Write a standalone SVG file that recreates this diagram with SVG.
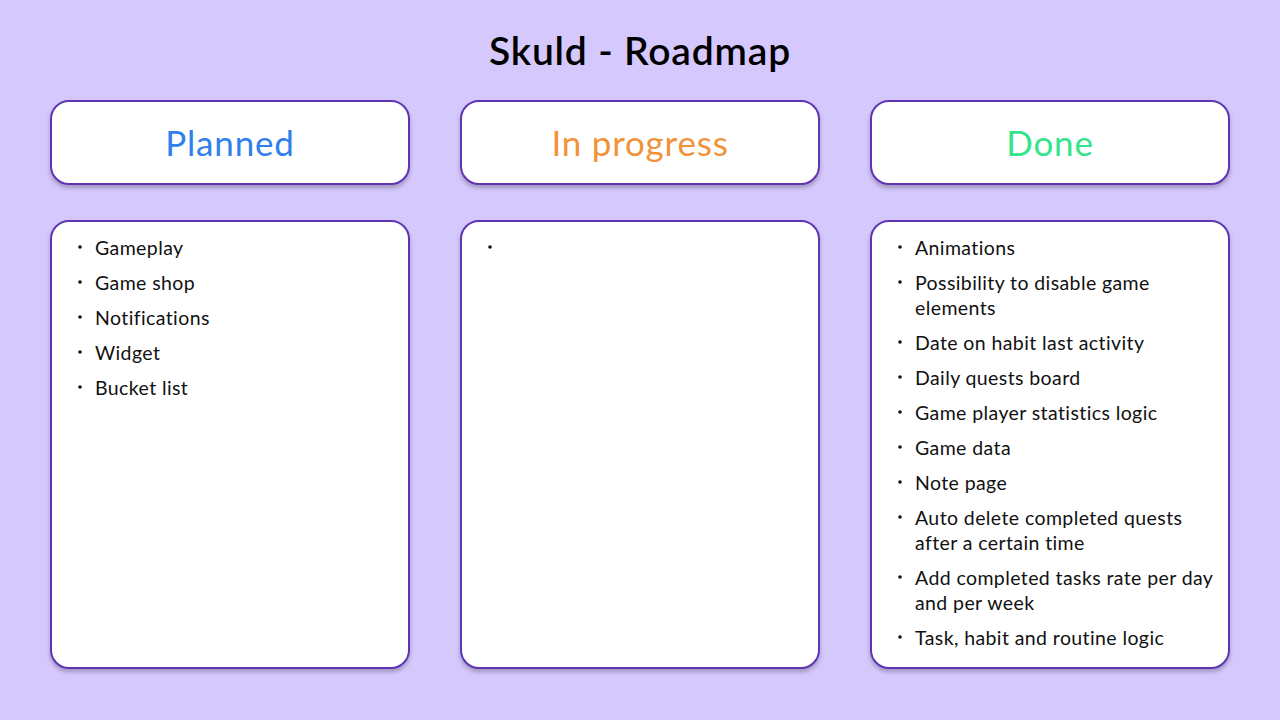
<svg xmlns="http://www.w3.org/2000/svg" width="1280" height="720" viewBox="0 0 1280 720">
<style>
.box{fill:#ffffff;stroke:#5e35b1;stroke-width:2;filter:url(#sh)}
.title{font-family:Lato,"Liberation Sans",sans-serif;font-size:39px;font-weight:600;letter-spacing:0.8px;fill:#000000}
.hdr{font-family:Lato,"Liberation Sans",sans-serif;font-size:35px;font-weight:400;letter-spacing:0.8px}
.item{font-family:Lato,"Liberation Sans",sans-serif;font-size:19.5px;letter-spacing:0.4px;fill:#111111}
.bul{fill:#111111}
</style>
<defs>
<filter id="sh" x="-10%" y="-10%" width="120%" height="130%">
<feDropShadow dx="0" dy="3" stdDeviation="2" flood-color="#000000" flood-opacity="0.25"/>
</filter>
</defs>
<rect width="1280" height="720" fill="#d5c8fd"/>
<text class="title" x="640" y="65" text-anchor="middle">Skuld - Roadmap</text>
<g id="planned-header">
<rect class="box" x="51" y="101" width="358" height="83" rx="18"/>
<text class="hdr" x="230" y="156" text-anchor="middle" fill="#2f80ed">Planned</text>
</g>
<g id="inprogress-header">
<rect class="box" x="461" y="101" width="358" height="83" rx="18"/>
<text class="hdr" x="640" y="156" text-anchor="middle" fill="#f2923a">In progress</text>
</g>
<g id="done-header">
<rect class="box" x="871" y="101" width="358" height="83" rx="18"/>
<text class="hdr" x="1050" y="156" text-anchor="middle" fill="#33e58a">Done</text>
</g>
<g id="planned-list">
<rect class="box" x="51" y="221" width="358" height="447" rx="18"/>
<circle class="bul" cx="80" cy="247" r="1.8"/><text class="item" x="95" y="255">Gameplay</text>
<circle class="bul" cx="80" cy="282" r="1.8"/><text class="item" x="95" y="290">Game shop</text>
<circle class="bul" cx="80" cy="317" r="1.8"/><text class="item" x="95" y="325">Notifications</text>
<circle class="bul" cx="80" cy="352" r="1.8"/><text class="item" x="95" y="360">Widget</text>
<circle class="bul" cx="80" cy="387" r="1.8"/><text class="item" x="95" y="395">Bucket list</text>
</g>
<g id="inprogress-list">
<rect class="box" x="461" y="221" width="358" height="447" rx="18"/>
<circle class="bul" cx="490" cy="247" r="1.8"/>
</g>
<g id="done-list">
<rect class="box" x="871" y="221" width="358" height="447" rx="18"/>
<circle class="bul" cx="900" cy="247" r="1.8"/><text class="item" x="915" y="255">Animations</text>
<circle class="bul" cx="900" cy="282" r="1.8"/><text class="item" x="915" y="290">Possibility to disable game</text>
<text class="item" x="915" y="315">elements</text>
<circle class="bul" cx="900" cy="342" r="1.8"/><text class="item" x="915" y="350">Date on habit last activity</text>
<circle class="bul" cx="900" cy="377" r="1.8"/><text class="item" x="915" y="385">Daily quests board</text>
<circle class="bul" cx="900" cy="412" r="1.8"/><text class="item" x="915" y="420">Game player statistics logic</text>
<circle class="bul" cx="900" cy="447" r="1.8"/><text class="item" x="915" y="455">Game data</text>
<circle class="bul" cx="900" cy="482" r="1.8"/><text class="item" x="915" y="490">Note page</text>
<circle class="bul" cx="900" cy="517" r="1.8"/><text class="item" x="915" y="525">Auto delete completed quests</text>
<text class="item" x="915" y="550">after a certain time</text>
<circle class="bul" cx="900" cy="577" r="1.8"/><text class="item" x="915" y="585">Add completed tasks rate per day</text>
<text class="item" x="915" y="610">and per week</text>
<circle class="bul" cx="900" cy="637" r="1.8"/><text class="item" x="915" y="645">Task, habit and routine logic</text>
</g>
<g id="connectors"></g>
</svg>
